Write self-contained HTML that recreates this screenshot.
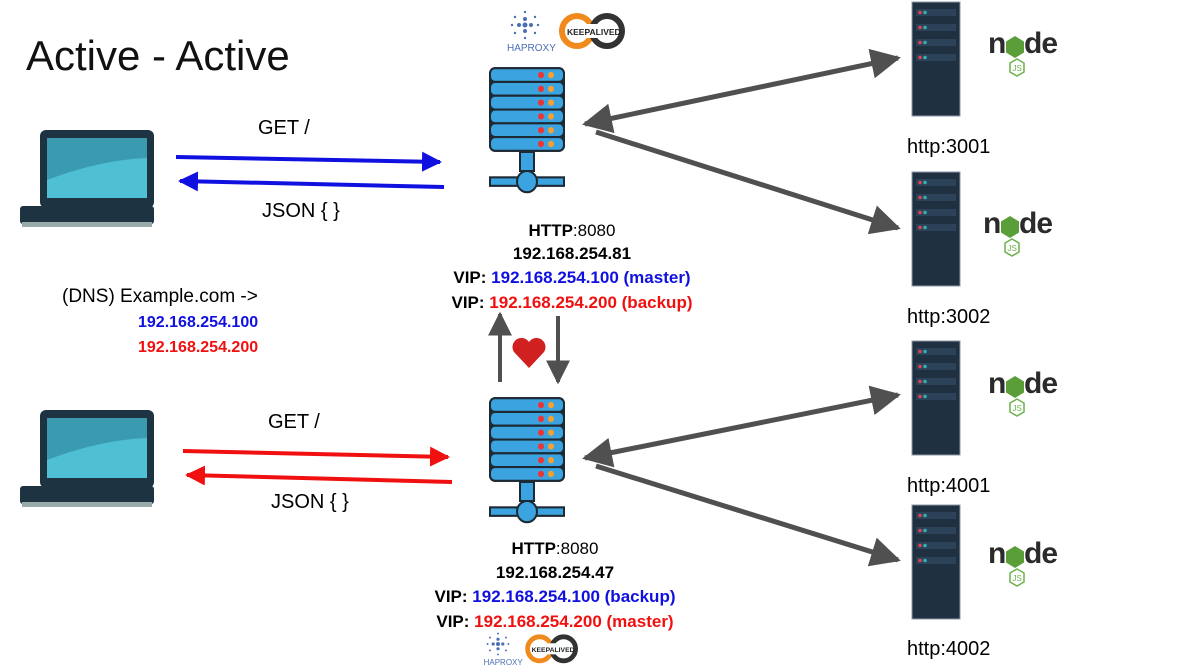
<!DOCTYPE html>
<html><head><meta charset="utf-8"><style>
html,body{margin:0;padding:0;background:#fff;width:1179px;height:670px;overflow:hidden}
svg{display:block}
text{font-family:"Liberation Sans",sans-serif}
</style></head><body>
<svg width="1179" height="670" viewBox="0 0 1179 670" xmlns="http://www.w3.org/2000/svg">
<defs>
<marker id="ab" viewBox="0 0 10 10" refX="9" refY="5" markerWidth="5" markerHeight="5" orient="auto-start-reverse"><path d="M0,0L10,5L0,10z" fill="#1010e0"/></marker>
<marker id="ar" viewBox="0 0 10 10" refX="9" refY="5" markerWidth="5" markerHeight="5" orient="auto-start-reverse"><path d="M0,0L10,5L0,10z" fill="#f01010"/></marker>
<marker id="ag" viewBox="0 0 10 10" refX="9" refY="5" markerWidth="6" markerHeight="6" orient="auto-start-reverse"><path d="M0,0L10,5L0,10z" fill="#505050"/></marker>
<g id="laptop">
<rect x="20" y="10" width="114" height="78" rx="6" fill="#1d3341"/>
<rect x="27" y="18" width="100" height="60" fill="#3a9bb0"/>
<path d="M27,60 Q80,40 127,38 L127,78 L27,78z" fill="#4fc0d4"/>
<rect x="0" y="86" width="134" height="18" rx="3" fill="#1d3341"/>
<rect x="2" y="102" width="130" height="5" fill="#9aa"/>
</g>
<g id="srv">
<rect x="2" y="2" width="76" height="80" rx="6" fill="#1d2a33"/>
<g fill="#3ba3e0" stroke="#1d2a33" stroke-width="2">
<rect x="3" y="3" width="74" height="13" rx="5"/><rect x="3" y="16" width="74" height="13" rx="5"/><rect x="3" y="29" width="74" height="13" rx="5"/><rect x="3" y="42" width="74" height="13" rx="5"/><rect x="3" y="55" width="74" height="13" rx="5"/><rect x="3" y="68" width="74" height="13" rx="5"/>
</g>
<g fill="#e33"><circle cx="54" cy="9.5" r="3"/><circle cx="54" cy="22.5" r="3"/><circle cx="54" cy="35.5" r="3"/><circle cx="54" cy="48.5" r="3"/><circle cx="54" cy="61.5" r="3"/><circle cx="54" cy="74.5" r="3"/></g>
<g fill="#f5a030"><circle cx="64" cy="9.5" r="3"/><circle cx="64" cy="22.5" r="3"/><circle cx="64" cy="35.5" r="3"/><circle cx="64" cy="48.5" r="3"/><circle cx="64" cy="61.5" r="3"/><circle cx="64" cy="74.5" r="3"/></g>
<path d="M33,82 h14 v18 h-14z" fill="#3ba3e0" stroke="#1d2a33" stroke-width="2"/>
<rect x="3" y="106" width="74" height="8" fill="#3ba3e0" stroke="#1d2a33" stroke-width="2"/>
<circle cx="40" cy="110" r="10" fill="#3ba3e0" stroke="#1d2a33" stroke-width="2"/>
</g>
<g id="rack">
<rect x="0" y="0" width="48" height="114" fill="#1f3040" stroke="#8898a8" stroke-width="1"/>
<g fill="#2c4258"><rect x="4" y="7" width="40" height="7"/><rect x="4" y="22" width="40" height="7"/><rect x="4" y="37" width="40" height="7"/><rect x="4" y="52" width="40" height="7"/></g>
<g fill="#e04050"><circle cx="8" cy="10.5" r="1.8"/><circle cx="8" cy="25.5" r="1.8"/><circle cx="8" cy="40.5" r="1.8"/><circle cx="8" cy="55.5" r="1.8"/></g>
<g fill="#30b0b0"><circle cx="13" cy="10.5" r="1.8"/><circle cx="13" cy="25.5" r="1.8"/><circle cx="13" cy="40.5" r="1.8"/><circle cx="13" cy="55.5" r="1.8"/></g>
</g>
<g id="node">
<text x="0" y="22" font-size="30" font-weight="bold" fill="#2b2b2b">n</text>
<polygon points="27,5 36,10.5 36,21.5 27,27 18,21.5 18,10.5" fill="#5a9e3a"/>
<text x="36" y="22" font-size="30" font-weight="bold" fill="#2b2b2b" letter-spacing="-1">de</text>
<polygon points="29,28 36,32 36,41 29,45 22,41 22,32" fill="none" stroke="#6ab04a" stroke-width="1.5"/>
<text x="24.5" y="40" font-size="8" fill="#6ab04a">JS</text>
</g>
<g id="logos">
<g fill="#4a6fb5"><circle cx="20" cy="14" r="2"/><circle cx="14" cy="20" r="2"/><circle cx="26" cy="20" r="2"/><circle cx="20" cy="26" r="2"/><circle cx="20" cy="20" r="2.5"/><circle cx="10" cy="12" r="1.2"/><circle cx="30" cy="12" r="1.2"/><circle cx="10" cy="28" r="1.2"/><circle cx="30" cy="28" r="1.2"/><circle cx="20" cy="7" r="1.2"/><circle cx="20" cy="33" r="1.2"/><circle cx="7" cy="20" r="1.2"/><circle cx="33" cy="20" r="1.2"/></g>
<text x="2" y="46" font-size="10" fill="#4a6fb5">HAPROXY</text>
<circle cx="72" cy="26" r="15" fill="none" stroke="#f08a1c" stroke-width="6"/>
<circle cx="102" cy="26" r="15" fill="none" stroke="#333" stroke-width="6"/>
<rect x="60" y="19" width="54" height="14" rx="7" fill="#fff"/>
<text x="62" y="30" font-size="8.5" font-weight="bold" fill="#222">KEEPALIVED</text>
</g>
</defs>

<text x="26" y="70" font-size="42" fill="#111">Active - Active</text>

<use href="#laptop" x="20" y="120"/>
<use href="#laptop" x="20" y="400"/>

<line x1="176" y1="157" x2="440" y2="162" stroke="#1010e0" stroke-width="4" marker-end="url(#ab)"/>
<line x1="444" y1="187" x2="180" y2="181" stroke="#1010e0" stroke-width="4" marker-end="url(#ab)"/>
<text x="258" y="134" font-size="20">GET /</text>
<text x="262" y="217" font-size="20">JSON { }</text>

<line x1="183" y1="451" x2="448" y2="457" stroke="#f01010" stroke-width="4" marker-end="url(#ar)"/>
<line x1="452" y1="482" x2="187" y2="475" stroke="#f01010" stroke-width="4" marker-end="url(#ar)"/>
<text x="268" y="428" font-size="20">GET /</text>
<text x="271" y="508" font-size="20">JSON { }</text>

<text x="62" y="302" font-size="19">(DNS) Example.com -&gt;</text>
<text x="138" y="327" font-size="16" font-weight="bold" fill="#1010e0">192.168.254.100</text>
<text x="138" y="352" font-size="16" font-weight="bold" fill="#f01010">192.168.254.200</text>

<use href="#logos" x="505" y="5"/>
<g transform="translate(487,65) scale(1,1.06)"><use href="#srv"/></g>
<g transform="translate(487,395) scale(1,1.06)"><use href="#srv"/></g>
<g transform="translate(482,628) scale(0.8)"><use href="#logos"/></g>

<g font-size="17" font-weight="bold" text-anchor="middle">
<text x="572" y="236">HTTP<tspan font-weight="normal">:8080</tspan></text>
<text x="572" y="259">192.168.254.81</text>
<text x="572" y="283">VIP: <tspan fill="#1010e0">192.168.254.100 (master)</tspan></text>
<text x="572" y="308">VIP: <tspan fill="#f01010">192.168.254.200 (backup)</tspan></text>
<text x="555" y="554">HTTP<tspan font-weight="normal">:8080</tspan></text>
<text x="555" y="578">192.168.254.47</text>
<text x="555" y="602">VIP: <tspan fill="#1010e0">192.168.254.100 (backup)</tspan></text>
<text x="555" y="627">VIP: <tspan fill="#f01010">192.168.254.200 (master)</tspan></text>
</g>

<line x1="500" y1="382" x2="500" y2="314" stroke="#505050" stroke-width="4" marker-end="url(#ag)"/>
<line x1="558" y1="316" x2="558" y2="382" stroke="#505050" stroke-width="4" marker-end="url(#ag)"/>
<path d="M529,368 L514,352 A8,8 0 0 1 529,342 A8,8 0 0 1 544,352 Z" fill="#d02020"/>

<g stroke="#505050" stroke-width="5">
<line x1="585" y1="124" x2="898" y2="58" marker-start="url(#ag)" marker-end="url(#ag)"/>
<line x1="596" y1="132" x2="898" y2="228" marker-end="url(#ag)"/>
<line x1="585" y1="458" x2="898" y2="395" marker-start="url(#ag)" marker-end="url(#ag)"/>
<line x1="596" y1="466" x2="898" y2="560" marker-end="url(#ag)"/>
</g>

<use href="#rack" x="912" y="2"/>
<use href="#rack" x="912" y="172"/>
<use href="#rack" x="912" y="341"/>
<use href="#rack" x="912" y="505"/>
<use href="#node" x="988" y="31"/>
<use href="#node" x="983" y="211"/>
<use href="#node" x="988" y="371"/>
<use href="#node" x="988" y="541"/>
<g font-size="20">
<text x="907" y="153">http:3001</text>
<text x="907" y="323">http:3002</text>
<text x="907" y="492">http:4001</text>
<text x="907" y="655">http:4002</text>
</g>
</svg>
</body></html>
